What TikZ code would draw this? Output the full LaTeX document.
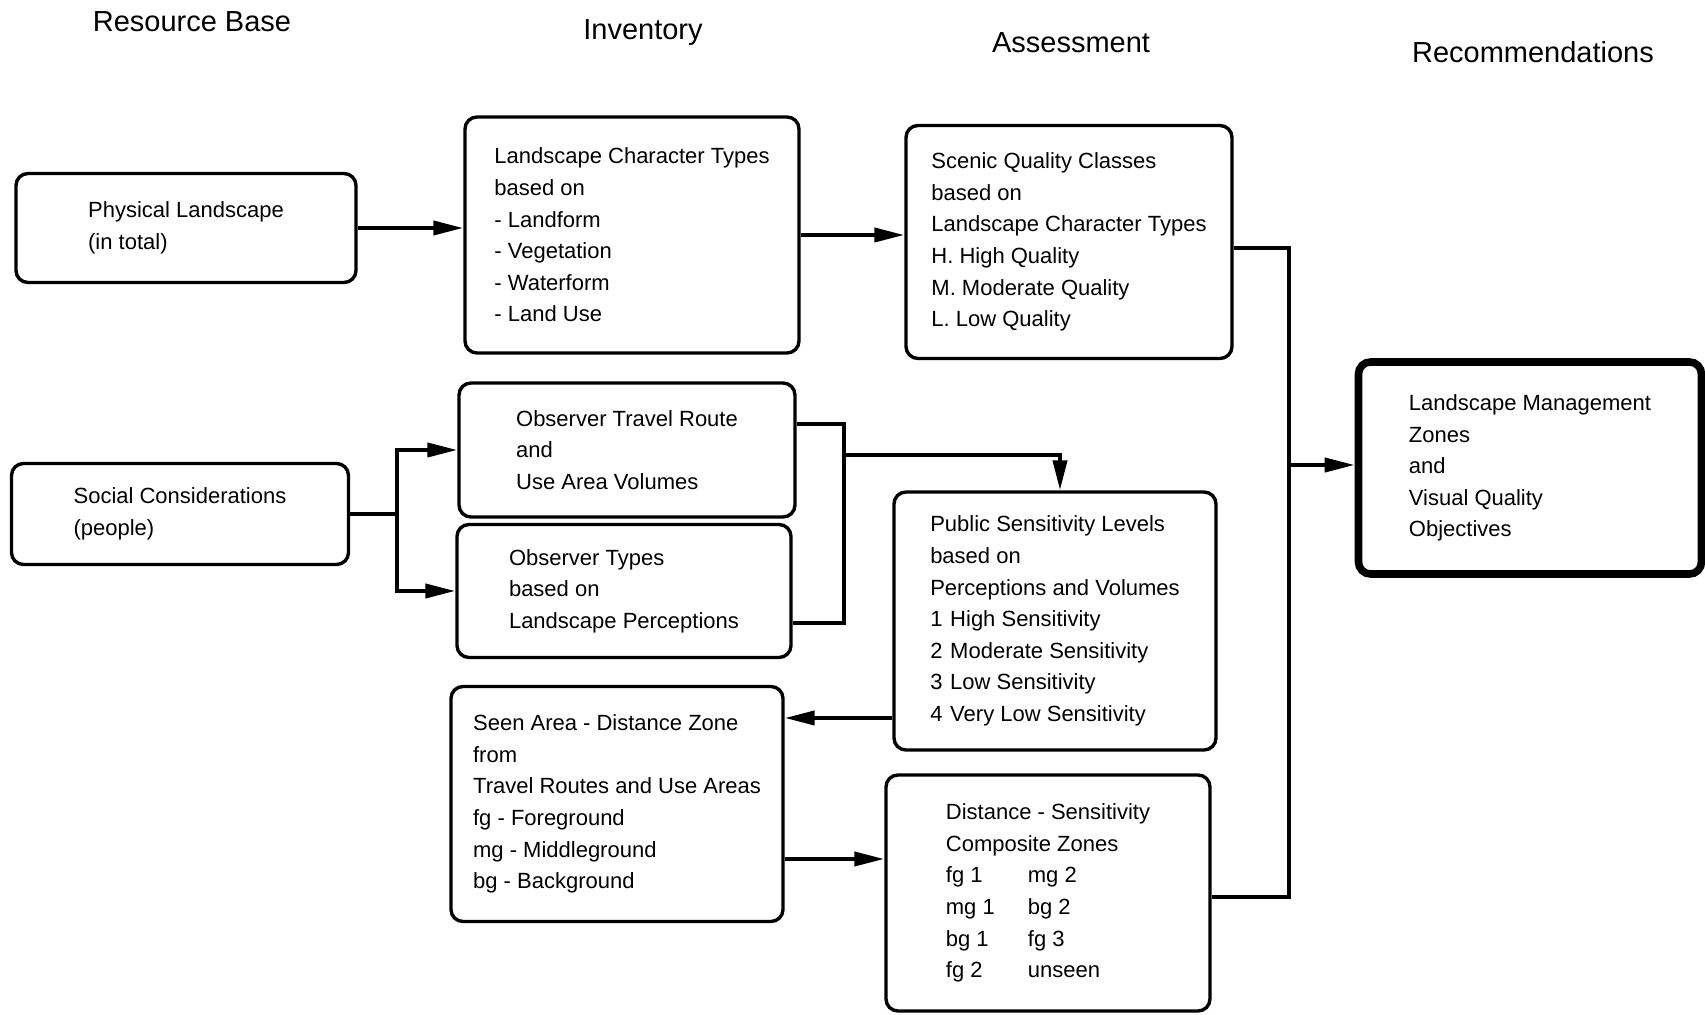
\documentclass[tikz,border=0pt]{standalone}
\usepackage{fontspec}
\setmainfont{Liberation Sans}
\usetikzlibrary{arrows.meta}

\begin{document}
\begin{tikzpicture}[x=0.5pt,y=-0.5pt,
  box/.style={draw, line width=1.7pt, rounded corners=6pt, align=left,
    inner sep=0pt, font=\fontsize{11}{15.8}\selectfont},
  bigbox/.style={box, line width=3.8pt},
  title/.style={font=\fontsize{14.5}{17}\selectfont, inner sep=0pt},
  conn/.style={line width=2pt},
  arr/.style={conn, -{Triangle[length=15pt,width=7pt]}}]

\useasboundingbox (0,0) rectangle (1705,1015);

% column headings
\node[title] (t1) at (192,22) {Resource Base};
\node[title] (t2) at (643,33) {Inventory};
\node[title] (t3) at (1071,43) {Assessment};
\node[title] (t4) at (1533,52) {Recommendations};

% resource base
\node[box, minimum width=170pt, minimum height=54.5pt] (phys) at (186,228)
  {Physical Landscape\\(in total)};
\node[box, minimum width=168.5pt, minimum height=50.5pt] (soc) at (180,514)
  {Social Considerations\\(people)};

% inventory
\node[box, minimum width=167pt, minimum height=118pt] (lct) at (632,235)
  {Landscape Character Types\\based on\\- Landform\\- Vegetation\\- Waterform\\- Land Use};
\node[box, minimum width=168pt, minimum height=67pt] (otr) at (627,450)
  {Observer Travel Route\\and\\Use Area Volumes};
\node[box, minimum width=167pt, minimum height=66.5pt] (ot) at (624,591)
  {Observer Types\\based on\\Landscape Perceptions};
\node[box, minimum width=166pt, minimum height=117.5pt] (sa) at (617,804)
  {Seen Area - Distance Zone\\from\\Travel Routes and Use Areas\\fg - Foreground\\mg - Middleground\\bg - Background};

% assessment
\node[box, minimum width=163pt, minimum height=116.5pt] (sqc) at (1069,242)
  {Scenic Quality Classes\\based on\\Landscape Character Types\\H. High Quality\\M. Moderate Quality\\L. Low Quality};
\node[box, minimum width=161pt, minimum height=129pt] (psl) at (1055,621)
  {Public Sensitivity Levels\\based on\\Perceptions and Volumes\\
   \makebox[10pt][l]{1}High Sensitivity\\
   \makebox[10pt][l]{2}Moderate Sensitivity\\
   \makebox[10pt][l]{3}Low Sensitivity\\
   \makebox[10pt][l]{4}Very Low Sensitivity};
\node[box, minimum width=162pt, minimum height=118pt] (ds) at (1048,893)
  {Distance - Sensitivity\\Composite Zones\\
   \makebox[41pt][l]{fg 1}mg 2\\
   \makebox[41pt][l]{mg 1}bg 2\\
   \makebox[41pt][l]{bg 1}fg 3\\
   \makebox[41pt][l]{fg 2}unseen};

% recommendations
\node[bigbox, minimum width=171.5pt, minimum height=106pt] (lm) at (1530,468)
  {Landscape Management\\Zones\\and\\Visual Quality\\Objectives};

% junction points
\coordinate (sj) at (397,514);
\coordinate (mj) at (844,455);
\coordinate (rj) at (1289,465);

% connectors
\draw[arr] (phys.east) -- (phys.east -| lct.west);
\draw[arr] (lct.east) -- (lct.east -| sqc.west);

\draw[conn] (soc.east) -- (sj);
\draw[arr] (sj) |- (otr.west);
\draw[arr] (sj) |- (ot.west);

\draw[conn] ([yshift=13pt]otr.east) -| (mj) |- ([yshift=-16pt]ot.east);
\draw[arr] (mj) -| ([xshift=2.5pt]psl.north);

\draw[arr] ([yshift=-48.5pt]psl.west) -- ([yshift=-48.5pt]psl.west -| sa.east);
\draw[arr] ([yshift=-27.5pt]sa.east) -- ([yshift=-27.5pt]sa.east -| ds.west);

\draw[conn] ([yshift=-3pt]sqc.east) -| (rj) |- ([yshift=-2pt]ds.east);
\draw[arr] (rj) -- (rj -| lm.west);

\end{tikzpicture}
\end{document}
